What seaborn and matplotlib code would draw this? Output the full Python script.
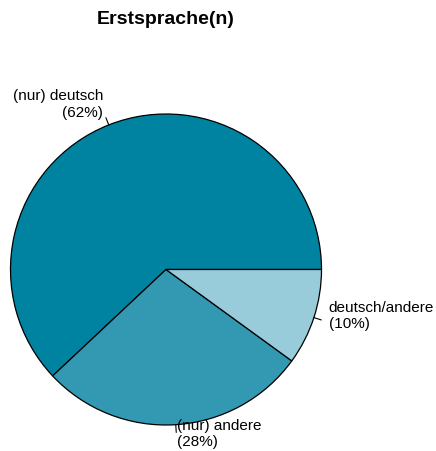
import numpy as np
import matplotlib
matplotlib.use("Agg")
import matplotlib.pyplot as plt
import matplotlib.transforms as mtrans
import seaborn as sns

sns.set_style("white")
plt.rcParams['font.family'] = ['Liberation Sans', 'DejaVu Sans']

labels = ['(nur) deutsch', '(nur) andere', 'deutsch/andere']
shares = [62, 28, 10]
colors = ['#0083A0', '#3399B3', '#99CCDA']

fig = plt.figure(figsize=(4.36, 4.52), dpi=100)
ax = fig.add_axes([0, 0, 1, 1])

texts = [f'{l}\n({s}%)' for l, s in zip(labels, shares)]
wedges, lbls = ax.pie(shares, labels=texts, colors=colors, startangle=0,
                      counterclock=True, labeldistance=1.1, radius=1,
                      wedgeprops=dict(edgecolor='black', linewidth=0.9),
                      textprops=dict(fontsize=11, color='black'))

# labels sit a bit higher than the exact 1.1 radius
shift = mtrans.ScaledTranslation(0, 7 / 100, fig.dpi_scale_trans)
for t in lbls:
    t.set_transform(ax.transData + shift)

# little ticks from the rim to the labels
cum = np.cumsum([0] + shares) / sum(shares)
for a, b in zip(cum[:-1], cum[1:]):
    ang = np.pi * (a + b)
    ax.plot([np.cos(ang), 1.05 * np.cos(ang)], [np.sin(ang), 1.05 * np.sin(ang)],
            color='black', lw=0.8)

# pie centre at (166, 270.5) px, radius 155.5 px
r = 155.5
cx, cy = 166, 270.5
ax.set_aspect('auto')
ax.set_xlim(-cx / r, (436 - cx) / r)
ax.set_ylim(-(452 - cy) / r, cy / r)
ax.axis('off')

fig.text(166 / 436, 1 - 20 / 452, 'Erstsprache(n)', ha='center', va='center',
         fontsize=14, fontweight='bold', color='black')

fig.savefig('out.png', dpi=100)
